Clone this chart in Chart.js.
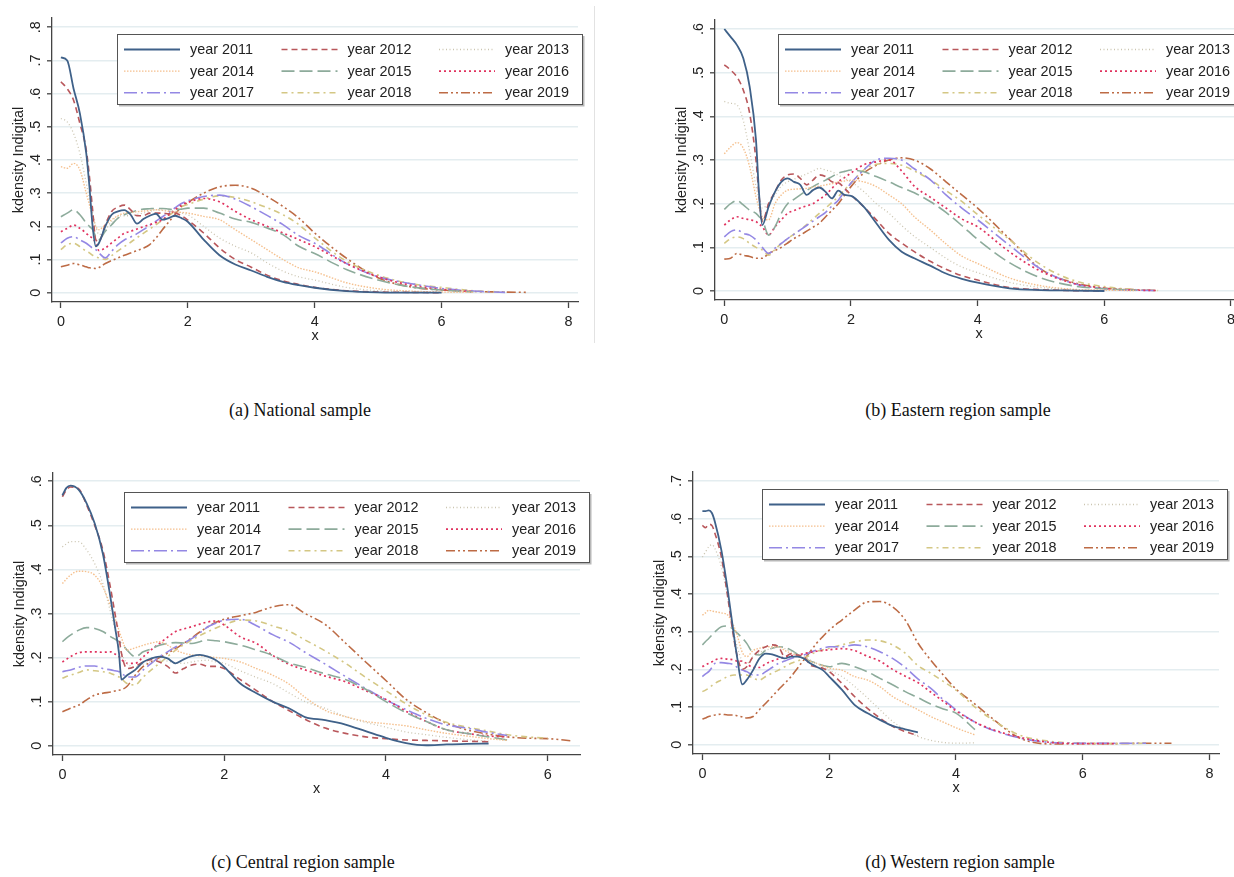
<!DOCTYPE html>
<html>
<head>
<meta charset="utf-8">
<title>kdensity Indigital</title>
<script src="https://cdn.jsdelivr.net/npm/chart.js@4.4.0/dist/chart.umd.min.js"></script>
<style>
  html, body { margin: 0; padding: 0; background: #fff; overflow: hidden; }
  body { width: 1234px; height: 877px; position: relative; }
  canvas { position: absolute; }
  .caption {
    position: absolute; width: 600px; text-align: center;
    font-family: "Liberation Serif", "Times New Roman", serif;
    font-size: 18px; line-height: 20px; color: #111;
  }
  .frame { position: absolute; left: 594px; top: 6px; height: 337px; border-left: 1px solid #e2e2e2; }
</style>
</head>
<body>
<div class="frame"></div>
<div class="caption" style="left:0px; top:400px;">(a) National sample</div>
<div class="caption" style="left:658px; top:400px;">(b) Eastern region sample</div>
<div class="caption" style="left:3px; top:852px;">(c) Central region sample</div>
<div class="caption" style="left:660px; top:852px;">(d) Western region sample</div>

<script>
// legend labels (same in every panel)
const years = ['year 2011', 'year 2012', 'year 2013', 'year 2014', 'year 2015',
               'year 2016', 'year 2017', 'year 2018', 'year 2019'];

// tick values
const xTicks8 = [0, 2, 4, 6, 8];
const xTicks6 = [0, 2, 4, 6];
const yTicks8 = [0, 0.1, 0.2, 0.3, 0.4, 0.5, 0.6, 0.7, 0.8];
const yTicks7 = [0, 0.1, 0.2, 0.3, 0.4, 0.5, 0.6, 0.7];
const yTicks6 = [0, 0.1, 0.2, 0.3, 0.4, 0.5, 0.6];

/******** (a) National sample */
const xA = [0,0.1,0.2,0.3,0.4,0.45,0.5,0.55,0.6,0.7,0.8,0.9,1.0,1.1,1.2,1.3,1.4,1.5,1.6,1.7,1.8,1.9,2.0,2.25,2.5,2.75,3.0,3.25,3.5,3.75,4.0,4.5,5.0,5.5,6.0,6.5,7.0,7.37];
const a2011 = [0.709,0.70,0.615,0.54,0.42,0.32,0.2,0.14,0.15,0.2,0.235,0.245,0.249,0.235,0.208,0.222,0.232,0.238,0.22,0.225,0.232,0.225,0.214,0.16,0.113,0.085,0.067,0.048,0.033,0.023,0.015,0.005,0.001,0,0];
const a2012 = [0.636,0.615,0.58,0.51,0.43,0.35,0.25,0.16,0.155,0.205,0.245,0.258,0.264,0.25,0.232,0.232,0.24,0.24,0.24,0.238,0.24,0.232,0.219,0.18,0.135,0.1,0.077,0.053,0.036,0.025,0.016,0.006,0.002,0.001,0];
const a2013 = [0.525,0.515,0.48,0.42,0.33,0.285,0.24,0.2,0.175,0.19,0.215,0.23,0.232,0.232,0.236,0.24,0.245,0.25,0.25,0.248,0.245,0.24,0.235,0.2,0.165,0.14,0.12,0.09,0.065,0.048,0.038,0.016,0.006,0.002,0.001];
const a2014 = [0.38,0.375,0.39,0.37,0.30,0.265,0.23,0.2,0.19,0.205,0.22,0.232,0.24,0.242,0.244,0.246,0.248,0.25,0.248,0.245,0.243,0.242,0.24,0.23,0.22,0.19,0.16,0.13,0.1,0.075,0.063,0.03,0.012,0.005,0.002,0.001];
const a2015 = [0.229,0.24,0.25,0.235,0.21,0.2,0.19,0.17,0.16,0.185,0.205,0.225,0.235,0.242,0.248,0.252,0.253,0.254,0.254,0.252,0.25,0.252,0.255,0.255,0.24,0.222,0.212,0.195,0.175,0.14,0.118,0.07,0.038,0.018,0.008,0.002];
const a2016 = [0.184,0.194,0.204,0.194,0.179,0.17,0.164,0.15,0.127,0.135,0.15,0.165,0.179,0.185,0.192,0.199,0.205,0.212,0.22,0.235,0.25,0.264,0.272,0.284,0.274,0.245,0.22,0.2,0.18,0.16,0.139,0.088,0.048,0.023,0.01,0.003];
const a2017 = [0.15,0.164,0.169,0.159,0.149,0.142,0.134,0.13,0.12,0.105,0.125,0.145,0.159,0.168,0.178,0.19,0.203,0.216,0.229,0.242,0.256,0.269,0.277,0.29,0.294,0.282,0.259,0.233,0.205,0.172,0.149,0.088,0.048,0.028,0.013,0.005,0.001];
const a2018 = [0.13,0.145,0.149,0.139,0.125,0.12,0.113,0.108,0.105,0.1,0.112,0.126,0.139,0.152,0.166,0.179,0.192,0.205,0.219,0.232,0.246,0.259,0.266,0.282,0.292,0.287,0.274,0.256,0.235,0.205,0.165,0.095,0.053,0.028,0.016,0.006,0.002];
const a2019 = [0.078,0.083,0.088,0.084,0.078,0.075,0.074,0.073,0.076,0.088,0.097,0.105,0.113,0.12,0.127,0.134,0.145,0.165,0.19,0.213,0.236,0.259,0.272,0.3,0.319,0.324,0.315,0.29,0.26,0.225,0.18,0.104,0.045,0.018,0.008,0.004,0.002,0.001];

/******** (b) Eastern region sample */
const xB = [0,0.1,0.2,0.3,0.4,0.5,0.55,0.6,0.7,0.8,0.9,1.0,1.1,1.2,1.3,1.4,1.5,1.6,1.7,1.8,1.9,2.0,2.2,2.4,2.6,2.8,3.0,3.25,3.5,3.75,4.0,4.5,5.0,5.5,6.0,6.5,6.85];
const b2011 = [0.6,0.582,0.563,0.533,0.468,0.346,0.22,0.151,0.193,0.227,0.25,0.258,0.25,0.243,0.22,0.231,0.237,0.227,0.212,0.23,0.22,0.218,0.193,0.155,0.117,0.09,0.075,0.058,0.04,0.028,0.019,0.006,0.002,0.001,0];
const b2012 = [0.518,0.506,0.49,0.46,0.407,0.3,0.216,0.159,0.2,0.227,0.254,0.266,0.268,0.258,0.243,0.254,0.266,0.262,0.25,0.248,0.235,0.22,0.193,0.163,0.132,0.11,0.09,0.068,0.05,0.035,0.025,0.008,0.003,0.001,0];
const b2013 = [0.434,0.43,0.426,0.39,0.32,0.24,0.21,0.19,0.2,0.22,0.24,0.25,0.256,0.262,0.268,0.275,0.281,0.277,0.273,0.265,0.258,0.25,0.228,0.2,0.178,0.15,0.125,0.1,0.075,0.055,0.042,0.02,0.008,0.003,0.001];
const b2014 = [0.314,0.33,0.34,0.327,0.285,0.216,0.19,0.17,0.163,0.2,0.22,0.231,0.233,0.234,0.235,0.238,0.24,0.243,0.246,0.25,0.252,0.254,0.25,0.239,0.22,0.2,0.17,0.14,0.108,0.08,0.063,0.03,0.012,0.004,0.002,0.001];
const b2015 = [0.187,0.2,0.207,0.197,0.185,0.178,0.17,0.163,0.128,0.147,0.178,0.2,0.21,0.22,0.23,0.239,0.247,0.254,0.262,0.27,0.274,0.277,0.273,0.262,0.25,0.237,0.225,0.205,0.18,0.15,0.118,0.065,0.03,0.012,0.005,0.002];
const b2016 = [0.151,0.163,0.17,0.166,0.163,0.159,0.153,0.147,0.128,0.147,0.163,0.178,0.184,0.19,0.195,0.2,0.21,0.22,0.235,0.25,0.26,0.27,0.289,0.296,0.3,0.275,0.24,0.215,0.19,0.165,0.147,0.09,0.045,0.018,0.006,0.002,0.001];
const b2017 = [0.124,0.136,0.14,0.132,0.128,0.117,0.108,0.1,0.086,0.098,0.109,0.12,0.13,0.14,0.15,0.16,0.17,0.18,0.195,0.208,0.228,0.247,0.277,0.3,0.304,0.3,0.28,0.255,0.22,0.19,0.163,0.105,0.05,0.018,0.005,0.002,0.001];
const b2018 = [0.109,0.12,0.124,0.12,0.109,0.1,0.097,0.094,0.082,0.095,0.109,0.12,0.13,0.14,0.152,0.165,0.178,0.19,0.203,0.216,0.232,0.247,0.277,0.29,0.292,0.288,0.275,0.255,0.23,0.205,0.175,0.118,0.06,0.025,0.01,0.003,0.001];
const b2019 = [0.073,0.075,0.086,0.082,0.079,0.075,0.075,0.075,0.086,0.093,0.1,0.11,0.12,0.128,0.137,0.146,0.155,0.17,0.185,0.2,0.22,0.239,0.27,0.288,0.3,0.305,0.3,0.28,0.25,0.22,0.19,0.12,0.05,0.02,0.007,0.003,0.001];

/******** (c) Central region sample */
const xC = [0,0.05,0.1,0.2,0.3,0.4,0.5,0.6,0.65,0.7,0.73,0.8,0.9,1.0,1.1,1.2,1.3,1.4,1.5,1.6,1.7,1.8,1.9,2.0,2.2,2.4,2.6,2.8,3.0,3.25,3.5,3.75,4.0,4.25,4.5,4.75,5.0,5.27,5.5,5.75,6.0,6.3];
const c2011 = [0.568,0.585,0.59,0.581,0.55,0.504,0.436,0.33,0.27,0.21,0.15,0.16,0.172,0.19,0.198,0.202,0.198,0.187,0.196,0.203,0.206,0.202,0.194,0.179,0.141,0.119,0.1,0.085,0.065,0.058,0.048,0.033,0.018,0.006,0.001,0.003,0.004,0.005];
const c2012 = [0.565,0.58,0.587,0.583,0.546,0.5,0.444,0.353,0.3,0.247,0.21,0.175,0.18,0.19,0.195,0.19,0.18,0.165,0.175,0.183,0.185,0.18,0.18,0.175,0.15,0.125,0.1,0.08,0.06,0.04,0.028,0.02,0.016,0.013,0.012,0.011,0.01,0.009];
const c2013 = [0.451,0.458,0.463,0.463,0.444,0.413,0.368,0.3,0.265,0.232,0.21,0.187,0.178,0.185,0.19,0.194,0.192,0.188,0.187,0.19,0.193,0.194,0.19,0.187,0.17,0.155,0.141,0.12,0.1,0.085,0.066,0.053,0.042,0.031,0.025,0.019,0.014,0.01];
const c2014 = [0.368,0.378,0.387,0.396,0.395,0.387,0.36,0.315,0.29,0.262,0.245,0.217,0.222,0.228,0.233,0.236,0.228,0.217,0.21,0.206,0.204,0.202,0.2,0.198,0.19,0.175,0.16,0.14,0.11,0.08,0.066,0.055,0.05,0.045,0.036,0.028,0.022,0.016,0.012];
const c2015 = [0.236,0.244,0.251,0.262,0.268,0.266,0.259,0.247,0.242,0.236,0.232,0.217,0.202,0.213,0.22,0.228,0.232,0.234,0.233,0.232,0.236,0.24,0.238,0.236,0.228,0.217,0.205,0.188,0.178,0.163,0.15,0.128,0.1,0.075,0.055,0.036,0.028,0.02,0.013];
const c2016 = [0.19,0.196,0.202,0.211,0.213,0.213,0.212,0.213,0.208,0.202,0.196,0.187,0.187,0.202,0.218,0.232,0.246,0.259,0.265,0.27,0.276,0.281,0.283,0.274,0.247,0.232,0.205,0.185,0.172,0.158,0.145,0.125,0.105,0.078,0.055,0.036,0.028,0.022,0.02];
const c2017 = [0.168,0.17,0.172,0.178,0.181,0.181,0.175,0.172,0.17,0.168,0.165,0.156,0.156,0.172,0.187,0.202,0.213,0.224,0.233,0.243,0.256,0.27,0.278,0.285,0.287,0.272,0.252,0.235,0.212,0.185,0.157,0.13,0.104,0.082,0.062,0.047,0.04,0.03,0.023];
const c2018 = [0.153,0.157,0.16,0.166,0.172,0.17,0.168,0.164,0.16,0.156,0.152,0.141,0.138,0.156,0.172,0.187,0.202,0.217,0.229,0.24,0.25,0.259,0.267,0.274,0.285,0.283,0.272,0.26,0.24,0.215,0.187,0.155,0.125,0.095,0.07,0.053,0.042,0.033,0.025,0.02,0.017];
const c2019 = [0.077,0.081,0.085,0.092,0.104,0.115,0.119,0.122,0.124,0.126,0.127,0.135,0.16,0.18,0.19,0.2,0.21,0.22,0.232,0.245,0.258,0.27,0.28,0.287,0.295,0.303,0.315,0.32,0.3,0.275,0.233,0.19,0.148,0.105,0.075,0.051,0.036,0.026,0.02,0.017,0.016,0.011];

/******** (d) Western region sample */
const xD = [0,0.05,0.1,0.15,0.2,0.3,0.4,0.5,0.55,0.63,0.7,0.8,0.9,1.0,1.1,1.2,1.3,1.4,1.5,1.6,1.7,1.8,1.9,2.0,2.2,2.4,2.6,2.8,3.0,3.2,3.4,3.6,3.8,4.0,4.3,4.5,5.0,5.5,6.0,6.5,7.0,7.4];
const d2011 = [0.62,0.62,0.622,0.615,0.59,0.516,0.41,0.287,0.23,0.16,0.172,0.198,0.229,0.242,0.24,0.234,0.229,0.234,0.234,0.229,0.216,0.207,0.198,0.181,0.146,0.106,0.084,0.066,0.05,0.041,0.033];
const d2012 = [0.582,0.576,0.585,0.582,0.56,0.498,0.392,0.278,0.235,0.2,0.207,0.234,0.251,0.26,0.265,0.26,0.234,0.241,0.238,0.234,0.212,0.207,0.203,0.194,0.163,0.128,0.097,0.071,0.049,0.035,0.024];
const d2013 = [0.498,0.512,0.525,0.531,0.52,0.472,0.392,0.295,0.26,0.222,0.216,0.234,0.245,0.251,0.256,0.26,0.255,0.247,0.24,0.234,0.225,0.216,0.207,0.198,0.181,0.155,0.125,0.093,0.062,0.04,0.022,0.012,0.006,0.004,0.005];
const d2014 = [0.344,0.35,0.357,0.355,0.353,0.35,0.344,0.313,0.29,0.245,0.234,0.25,0.256,0.26,0.26,0.26,0.25,0.243,0.236,0.229,0.222,0.216,0.21,0.203,0.198,0.181,0.172,0.154,0.128,0.11,0.093,0.075,0.06,0.045,0.026];
const d2015 = [0.265,0.274,0.282,0.291,0.3,0.313,0.315,0.304,0.296,0.283,0.269,0.243,0.238,0.251,0.256,0.26,0.258,0.251,0.24,0.229,0.222,0.216,0.21,0.207,0.216,0.207,0.194,0.176,0.159,0.141,0.125,0.108,0.095,0.084,0.04];
const d2016 = [0.207,0.212,0.216,0.22,0.225,0.229,0.227,0.225,0.222,0.222,0.215,0.205,0.205,0.215,0.222,0.228,0.233,0.236,0.238,0.242,0.245,0.248,0.25,0.252,0.255,0.25,0.235,0.222,0.2,0.182,0.165,0.14,0.115,0.09,0.06,0.045,0.02,0.006,0.003,0.003];
const d2017 = [0.181,0.188,0.194,0.205,0.216,0.218,0.216,0.212,0.205,0.198,0.194,0.185,0.185,0.194,0.205,0.216,0.222,0.229,0.234,0.238,0.245,0.251,0.256,0.26,0.26,0.265,0.26,0.247,0.229,0.205,0.175,0.15,0.12,0.093,0.06,0.044,0.018,0.006,0.004,0.004,0.004];
const d2018 = [0.141,0.145,0.15,0.157,0.163,0.172,0.181,0.185,0.185,0.185,0.185,0.176,0.172,0.181,0.19,0.198,0.207,0.216,0.222,0.229,0.238,0.247,0.252,0.256,0.265,0.273,0.278,0.276,0.265,0.243,0.21,0.19,0.168,0.145,0.1,0.075,0.026,0.009,0.004,0.003,0.004];
const d2019 = [0.068,0.071,0.075,0.077,0.079,0.081,0.079,0.079,0.077,0.074,0.071,0.075,0.093,0.11,0.128,0.146,0.163,0.181,0.203,0.225,0.247,0.269,0.287,0.304,0.331,0.357,0.379,0.38,0.366,0.331,0.27,0.225,0.185,0.148,0.108,0.08,0.018,0.002,0.003,0.003,0.004,0.004];

// stata-like line styles, one per year
const lineColors = ['#3f6189', '#b9575b', '#cbc5b1', '#f5c08e', '#8dab9b',
                    '#e0335f', '#9488e4', '#d4c784', '#bd6b45'];
const lineDash = [[], [6, 4], [1, 2.5], [1.5, 1.5], [13, 5], [2, 3],
                  [13, 4, 2, 4], [6, 4, 2, 4], [9, 3, 2, 3, 2, 3]];
const lineWidths = [1.8, 1.6, 1.3, 1.4, 1.6, 1.7, 1.6, 1.6, 1.6];

const txtFont = '14.4px "Liberation Sans", Arial, sans-serif';

function toPoints(xs, ys) {
  return ys.map((y, i) => ({ x: xs[i], y: y }));
}

function fmtY(v) {
  if (Math.abs(v) < 1e-9) return '0';
  return '.' + Math.round(v * 10);
}

// y labels are vertical in stata, chart.js can't rotate them on a y axis
const stataYText = {
  id: 'stataYText',
  afterDraw(chart) {
    let ctx = chart.ctx;
    let ys = chart.scales.y;
    let area = chart.chartArea;
    ctx.save();
    ctx.fillStyle = '#222';
    ctx.font = txtFont;
    ctx.textAlign = 'center';
    ctx.textBaseline = 'middle';
    ys.ticks.forEach(t => {
      ctx.save();
      ctx.translate(area.left - 16, ys.getPixelForValue(t.value));
      ctx.rotate(-Math.PI / 2);
      ctx.fillText(fmtY(t.value), 0, 0);
      ctx.restore();
    });
    ctx.translate(area.left - 33, (area.top + area.bottom) / 2);
    ctx.rotate(-Math.PI / 2);
    ctx.fillText('kdensity Indigital', 0, 0);
    ctx.restore();
  }
};

// boxed legend, 3 columns
const stataLegend = {
  id: 'stataLegend',
  afterDraw(chart, args, opts) {
    let ctx = chart.ctx;
    let bx = opts.left, by = opts.top, bw = 465, bh = 70;
    ctx.save();
    ctx.fillStyle = '#fff';
    ctx.fillRect(bx, by, bw, bh);
    ctx.strokeStyle = '#b8b8b8';
    ctx.lineWidth = 2;
    ctx.beginPath();
    ctx.moveTo(bx + 2, by + bh + 1.5);
    ctx.lineTo(bx + bw + 1.5, by + bh + 1.5);
    ctx.lineTo(bx + bw + 1.5, by + 2);
    ctx.stroke();
    ctx.strokeStyle = '#555';
    ctx.lineWidth = 1;
    ctx.strokeRect(bx + 0.5, by + 0.5, bw, bh);
    ctx.font = txtFont;
    ctx.textAlign = 'left';
    ctx.textBaseline = 'middle';
    chart.data.datasets.forEach((ds, i) => {
      let col = i % 3, row = Math.floor(i / 3);
      let x0 = bx + 7 + col * 157.5;
      let yy = by + 15.5 + row * 21.6;
      ctx.setLineDash(ds.borderDash || []);
      ctx.strokeStyle = ds.borderColor;
      ctx.lineWidth = ds.borderWidth;
      ctx.beginPath();
      ctx.moveTo(x0, yy);
      ctx.lineTo(x0 + 56, yy);
      ctx.stroke();
      ctx.setLineDash([]);
      ctx.fillStyle = '#222';
      ctx.fillText(ds.label, x0 + 66, yy + 0.5);
    });
    ctx.restore();
  }
};

function makePanel(p) {
  let cv = document.createElement('canvas');
  cv.width = p.w;
  cv.height = p.h;
  cv.style.left = p.left + 'px';
  cv.style.top = p.top + 'px';
  document.body.appendChild(cv);

  let datasets = p.series.map((ys, i) => ({
    label: years[i],
    data: toPoints(p.xs, ys),
    borderColor: lineColors[i],
    borderDash: lineDash[i],
    borderWidth: lineWidths[i],
    pointRadius: 0,
    fill: false,
    cubicInterpolationMode: 'monotone'
  }));

  return new Chart(cv, {
    type: 'line',
    data: { datasets: datasets },
    options: {
      responsive: false,
      animation: false,
      devicePixelRatio: 1,
      layout: { padding: { left: 0, top: p.padTop, right: p.padRight, bottom: 0 } },
      plugins: {
        legend: { display: false },
        tooltip: { enabled: false },
        stataLegend: { left: p.legLeft, top: p.legTop }
      },
      scales: {
        x: {
          type: 'linear',
          min: p.xRange[0],
          max: p.xRange[1],
          afterBuildTicks: s => { s.ticks = p.xTicks.map(v => ({ value: v })); },
          afterFit: s => { s.height = 43; },
          border: { display: true, color: '#444', width: 1.3 },
          grid: { drawOnChartArea: false, drawTicks: true, tickLength: 6, tickColor: '#444', tickWidth: 1.3 },
          ticks: {
            padding: 5, color: '#222', autoSkip: false, maxRotation: 0,
            font: { family: '"Liberation Sans", Arial, sans-serif', size: 14.4 }
          },
          title: {
            display: true, text: 'x', color: '#222', padding: 0,
            font: { family: '"Liberation Sans", Arial, sans-serif', size: 14.4 }
          }
        },
        y: {
          type: 'linear',
          min: p.yRange[0],
          max: p.yRange[1],
          afterBuildTicks: s => { s.ticks = p.yTicks.map(v => ({ value: v })); },
          afterFit: s => { s.width = p.yWidth; },
          border: { display: true, color: '#444', width: 1.3 },
          grid: { color: '#e4edf0', lineWidth: 1.6, drawTicks: true, tickLength: 5, tickColor: '#444', tickWidth: 1.3 },
          ticks: { display: false }
        }
      }
    },
    plugins: [stataYText, stataLegend]
  });
}

makePanel({
  left: 0, top: 0, w: 600, h: 345, yWidth: 52, padTop: 18, padRight: 22,
  xs: xA, series: [a2011, a2012, a2013, a2014, a2015, a2016, a2017, a2018, a2019],
  xRange: [-0.14, 8.15], yRange: [-0.028, 0.828], xTicks: xTicks8, yTicks: yTicks8,
  legLeft: 117, legTop: 34
});

makePanel({
  left: 640, top: 0, w: 620, h: 343, yWidth: 75, padTop: 20, padRight: 17,
  xs: xB, series: [b2011, b2012, b2013, b2014, b2015, b2016, b2017, b2018, b2019],
  xRange: [-0.147, 8.19], yRange: [-0.0206, 0.6206], xTicks: xTicks8, yTicks: yTicks6,
  legLeft: 138, legTop: 34
});

makePanel({
  left: 0, top: 450, w: 600, h: 348, yWidth: 53, padTop: 23, padRight: 20,
  xs: xC, series: [c2011, c2012, c2013, c2014, c2015, c2016, c2017, c2018, c2019],
  xRange: [-0.116, 6.40], yRange: [-0.0211, 0.6188], xTicks: xTicks6, yTicks: yTicks6,
  legLeft: 124, legTop: 42
});

makePanel({
  left: 640, top: 450, w: 594, h: 347, yWidth: 53, padTop: 22, padRight: 15,
  xs: xD, series: [d2011, d2012, d2013, d2014, d2015, d2016, d2017, d2018, d2019],
  xRange: [-0.148, 8.15], yRange: [-0.0246, 0.7238], xTicks: xTicks8, yTicks: yTicks7,
  legLeft: 122, legTop: 39
});
</script>
</body>
</html>
